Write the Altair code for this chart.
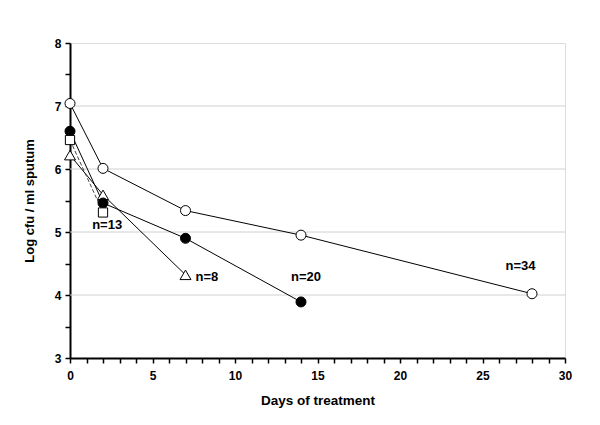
import altair as alt
import pandas as pd

# ---- data ----
days_34 = [0, 2, 7, 14, 28]
log_cfu_34 = [7.04, 6.01, 5.34, 4.95, 4.02]

days_20 = [0, 2, 7, 14]
log_cfu_20 = [6.60, 5.46, 4.90, 3.89]

days_13 = [0, 2]
log_cfu_13 = [6.46, 5.31]

days_8 = [0, 2, 7]
log_cfu_8 = [6.22, 5.59, 4.32]

label_text = ["n=13", "n=8", "n=20", "n=34"]
label_day = [2.25, 8.3, 14.3, 27.3]
label_value = [5.11, 4.29, 4.29, 4.46]

grid_levels = [4, 5, 6, 7]
x_ticks = list(range(0, 31))
y_ticks = [3 + 0.5 * i for i in range(11)]

FONT = "Liberation Sans"

x_scale = alt.Scale(domain=[0, 30], nice=False, zero=False)
y_scale = alt.Scale(domain=[3, 8], nice=False, zero=False)

x_axis = alt.Axis(
    title="Days of treatment", values=x_ticks,
    labelExpr="datum.value % 5 == 0 ? format(datum.value, 'd') : ''",
    grid=False, domainColor="black", domainWidth=2,
    tickColor="black", tickWidth=1.5, tickSize=5,
    labelFont=FONT, labelFontSize=12, labelFontWeight="bold", labelColor="black",
    labelPadding=7, labelFlush=False,
    titleFont=FONT, titleFontSize=13.5, titleFontWeight="bold", titleColor="black",
    titlePadding=12,
)
y_axis = alt.Axis(
    title="Log cfu / ml sputum", values=y_ticks,
    labelExpr="datum.value % 1 == 0 ? format(datum.value, 'd') : ''",
    grid=False, domainColor="black", domainWidth=2,
    tickColor="black", tickWidth=1.5, tickSize=5,
    labelFont=FONT, labelFontSize=12, labelFontWeight="bold", labelColor="black",
    labelPadding=4, labelFlush=False,
    titleFont=FONT, titleFontSize=13, titleFontWeight="bold", titleColor="black",
    titlePadding=18,
)

def frame(days, vals):
    return pd.DataFrame({"day": days, "value": vals})

def xy():
    return dict(
        x=alt.X("day:Q", scale=x_scale, axis=x_axis),
        y=alt.Y("value:Q", scale=y_scale, axis=y_axis),
    )

d34 = frame(days_34, log_cfu_34)
d20 = frame(days_20, log_cfu_20)
d13 = frame(days_13, log_cfu_13)
d8 = frame(days_8, log_cfu_8)

grid = alt.Chart(pd.DataFrame({"value": grid_levels})).mark_rule(
    color="#d0d0d0", strokeWidth=1
).encode(
    y=alt.Y("value:Q", scale=y_scale, axis=y_axis),
    x=alt.value(0), x2=alt.value(495),
)

def line(df, dash=None, color="black"):
    kw = dict(color=color, strokeWidth=1)
    if dash:
        kw["strokeDash"] = dash
    return alt.Chart(df).mark_line(**kw).encode(**xy())

def pts(df, shape, fill, size):
    return alt.Chart(df).mark_point(
        shape=shape, filled=True, fill=fill, stroke="black",
        strokeWidth=1, size=size, opacity=1
    ).encode(**xy())

labels = alt.Chart(pd.DataFrame({
    "day": label_day, "value": label_value, "text": label_text
})).mark_text(
    font=FONT, fontSize=13, fontWeight="bold", color="black"
).encode(
    x=alt.X("day:Q", scale=x_scale, axis=x_axis),
    y=alt.Y("value:Q", scale=y_scale, axis=y_axis),
    text="text:N",
)

chart = alt.layer(
    grid,
    line(d8),
    line(d20),
    line(d13, dash=[4, 2], color="#444444"),
    line(d34),
    pts(d8, "triangle-up", "white", 120),
    pts(d20, "circle", "black", 100),
    pts(d13, "square", "white", 85),
    pts(d34, "circle", "white", 100),
    labels,
).properties(
    width=495, height=315,
    autosize=alt.AutoSizeParams(type="none"),
    padding={"left": 62, "top": 35, "right": 25, "bottom": 55},
).configure_view(stroke=None).configure(background="white")

chart.save("out.html", embed_options={"renderer": "svg", "actions": False})
